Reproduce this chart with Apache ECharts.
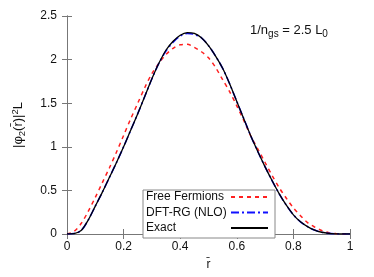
<!DOCTYPE html>
<html><head><meta charset="utf-8">
<script src="https://cdn.jsdelivr.net/npm/echarts@6/dist/echarts.min.js"></script>
<style>html,body{margin:0;padding:0;background:#fff}#c{width:374px;height:277px}</style>
</head><body><div id="c"></div>
<script>
var rValues = [0,0.025,0.05,0.075,0.1,0.125,0.15,0.175,0.2,0.225,0.25,0.275,0.3,0.325,0.35,0.375,0.4,0.425,0.45,0.475,0.5,0.525,0.55,0.575,0.6,0.625,0.65,0.675,0.7,0.725,0.75,0.775,0.8,0.825,0.85,0.875,0.9,0.925,0.95,0.975,1];
var exactVals = [0,0.005,0.04,0.16,0.32,0.48,0.65,0.82,1.0,1.19,1.38,1.58,1.78,1.96,2.11,2.21,2.28,2.31,2.30,2.25,2.16,2.04,1.90,1.72,1.52,1.32,1.12,0.94,0.77,0.61,0.46,0.33,0.22,0.14,0.085,0.045,0.02,0.007,0.002,0,0];
var dftVals =   [0,0.005,0.04,0.16,0.32,0.48,0.65,0.82,1.0,1.19,1.38,1.58,1.78,1.96,2.10,2.20,2.27,2.30,2.29,2.25,2.16,2.04,1.90,1.72,1.52,1.32,1.12,0.94,0.77,0.61,0.46,0.33,0.22,0.14,0.085,0.045,0.02,0.007,0.002,0,0];
var freeVals = [0,0.03,0.12,0.26,0.42,0.59,0.76,0.94,1.13,1.32,1.50,1.68,1.84,1.96,2.06,2.13,2.17,2.175,2.14,2.09,2.02,1.91,1.77,1.63,1.47,1.30,1.12,0.97,0.82,0.67,0.53,0.41,0.30,0.21,0.13,0.08,0.04,0.015,0.005,0,0];
var xTicks = [0,0.2,0.4,0.6,0.8,1];
var yTicks = [0,0.5,1,1.5,2,2.5];
function pairs(xs, ys){ return xs.map(function(x,i){return [x, ys[i]];}); }
var font = 'Liberation Sans, Arial, sans-serif';
var chart = echarts.init(document.getElementById('c'), null, {renderer:'canvas'});
var tickStyle = {show:true, inside:true, length:5, lineStyle:{color:'#777'}};
chart.setOption({
  animation:false,
  textStyle:{fontFamily:font},
  grid:{left:67, right:24, top:16, bottom:43},
  xAxis:[{type:'value', min:0, max:1, interval:0.2,
    axisLine:{lineStyle:{color:'#777'}}, axisTick:tickStyle, splitLine:{show:false},
    axisLabel:{color:'#111', fontSize:12, fontFamily:font, margin:7,
      formatter:function(v){var r=Math.round(v*10)/10; return xTicks.indexOf(r)>=0 ? String(r) : '';}},
    name:'r\u0304', nameLocation:'middle', nameGap:25, nameTextStyle:{color:'#111', fontSize:12, fontFamily:font}},
   {type:'value', position:'top', min:0, max:1, interval:0.2, axisLine:{lineStyle:{color:'#777'}}, axisTick:tickStyle, axisLabel:{show:false}, splitLine:{show:false}}],
  yAxis:[{type:'value', min:0, max:2.5, interval:0.5,
    axisLine:{show:true, lineStyle:{color:'#777'}}, axisTick:tickStyle, splitLine:{show:false},
    axisLabel:{color:'#111', fontSize:12, fontFamily:font, margin:10,
      formatter:function(v){return yTicks.indexOf(v)>=0 ? String(v) : '';}}},
   {type:'value', position:'right', min:0, max:2.5, interval:0.5, axisLine:{show:true, lineStyle:{color:'#777'}}, axisTick:tickStyle, axisLabel:{show:false}, splitLine:{show:false}}],
  legend:{orient:'vertical', left:143, top:190, align:'right', itemWidth:37, itemHeight:10, itemGap:3.5,
    padding:[1,6,4,3], borderColor:'#888', borderWidth:1, backgroundColor:'#fff',
    itemStyle:{opacity:0},
    formatter:function(name){return '{a|' + name + '}';},
    textStyle:{fontSize:12, fontFamily:font, color:'#111',
      rich:{a:{width:80, align:'left', fontSize:12, fontFamily:font, color:'#111'}}},
    data:['Free Fermions','DFT-RG (NLO)','Exact']},
  graphic:[
    {type:'text', left:250, top:24, style:{rich:{n:{fontSize:13, fontFamily:font, fill:'#111'}, s:{fontSize:10, fontFamily:font, fill:'#111', padding:[7,0,0,0]}},
      text:'{n|1/n}{s|gs}{n| = 2.5 L}{s|0}'}},
    {type:'text', x:18, y:125, rotation:Math.PI/2,
      style:{align:'center', verticalAlign:'middle',
        rich:{n:{fontSize:13, fontFamily:font, fill:'#111', lineHeight:18, verticalAlign:'middle'},
                   s:{fontSize:9.5, fontFamily:font, fill:'#111', lineHeight:18, padding:[8,0,0,0]},
                   p:{fontSize:9.5, fontFamily:font, fill:'#111', lineHeight:18, padding:[0,0,6,0]}},
        text:'{n||\u03c6}{s|2}{n|(r\u0304)|}{p|2}{n|L}'}}
  ],
  series:[
    {name:'Free Fermions', type:'line', smooth:0.3, symbol:'none', data:pairs(rValues, freeVals), z:3,
      lineStyle:{color:'#ff2020', width:1.5, type:[4,4]}, itemStyle:{color:'#ff2020'}},
    {name:'DFT-RG (NLO)', type:'line', smooth:0.3, symbol:'none', data:pairs(rValues, dftVals), z:4,
      lineStyle:{color:'#1010ff', width:1.6, type:[8,3,2,3]}, itemStyle:{color:'#1010ff'}},
    {name:'Exact', type:'line', smooth:0.3, symbol:'none', data:pairs(rValues, exactVals), z:5,
      lineStyle:{color:'#000', width:1.3}, itemStyle:{color:'#000'}}
  ]
});
</script></body></html>
